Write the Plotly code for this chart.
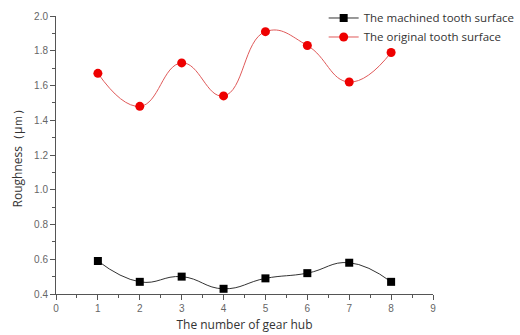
import plotly.graph_objects as go

gear_hub = [1, 2, 3, 4, 5, 6, 7, 8]
machined = [0.59, 0.47, 0.50, 0.43, 0.49, 0.52, 0.58, 0.47]
original = [1.67, 1.48, 1.73, 1.54, 1.91, 1.83, 1.62, 1.79]

x_ticks = [0, 1, 2, 3, 4, 5, 6, 7, 8, 9]
y_ticks = [0.4, 0.6, 0.8, 1.0, 1.2, 1.4, 1.6, 1.8, 2.0]

axis_color = "#555555"
tick_font = dict(family="Liberation Sans, Arial, sans-serif", size=10, color="#666666")
text_font = dict(family="Open Sans, Noto Sans, sans-serif", size=12, color="#333333")
legend_font = dict(family="Open Sans, Noto Sans, sans-serif", size=11.5, color="#333333")

fig = go.Figure()
fig.add_trace(go.Scatter(
    x=gear_hub, y=machined, name="The machined tooth surface",
    mode="lines+markers",
    line=dict(color="#333333", width=1, shape="spline", smoothing=1.3),
    marker=dict(symbol="square", color="#000000", size=8),
))
fig.add_trace(go.Scatter(
    x=gear_hub, y=original, name="The original tooth surface",
    mode="lines+markers",
    line=dict(color="#e05a5a", width=1, shape="spline", smoothing=1.3),
    marker=dict(symbol="circle", color="#ee0000", size=9),
))

fig.update_layout(
    width=520, height=335,
    margin=dict(l=56, r=87, t=16, b=41, autoexpand=False),
    paper_bgcolor="white", plot_bgcolor="white",
    font=text_font,
    legend=dict(
        x=0.71, y=1.045, xanchor="left", yanchor="top",
        bgcolor="rgba(0,0,0,0)", borderwidth=0,
        font=legend_font, tracegroupgap=0, itemwidth=30,
    ),
    xaxis=dict(
        range=[0, 9], tickvals=x_ticks, ticktext=[str(v) for v in x_ticks],
        showgrid=False, zeroline=False,
        showline=True, linecolor=axis_color, linewidth=1,
        ticks="outside", ticklen=5, tickcolor=axis_color, tickfont=tick_font,
        minor=dict(ticks="outside", ticklen=3, dtick=0.5, tick0=0, tickcolor=axis_color, showgrid=False),
        title=dict(text="The number of gear hub", font=text_font, standoff=7),
    ),
    yaxis=dict(
        range=[0.4, 2.0], tickvals=y_ticks, ticktext=[f"{v:.1f}" for v in y_ticks],
        showgrid=False, zeroline=False,
        showline=True, linecolor=axis_color, linewidth=1,
        ticks="outside", ticklen=5, tickcolor=axis_color, tickfont=tick_font,
        minor=dict(ticks="outside", ticklen=3, dtick=0.1, tick0=0.4, tickcolor=axis_color, showgrid=False),
        title=dict(text="Roughness（μｍ）", font=text_font, standoff=8),
    ),
)

fig.write_html("out.html")
